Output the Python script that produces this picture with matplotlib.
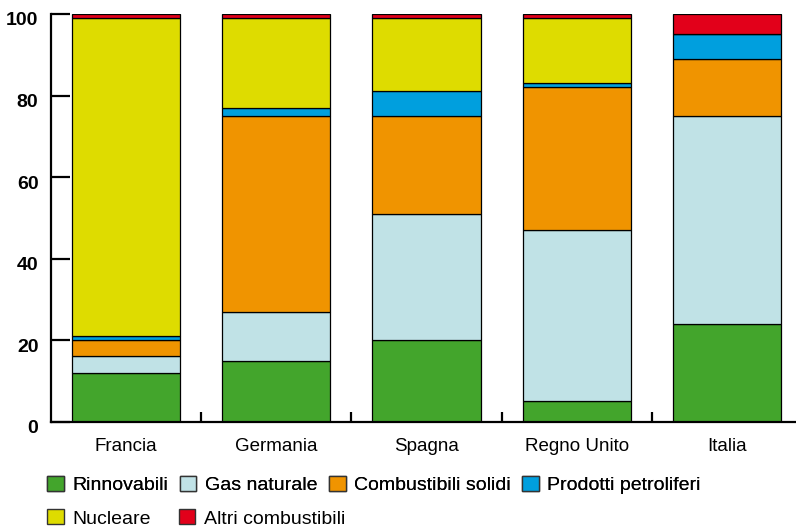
import numpy as np
import matplotlib
matplotlib.use('Agg')
import matplotlib.pyplot as plt
import matplotlib.transforms as mtransforms
from matplotlib.patches import Patch

plt.rcParams['font.family'] = ['Liberation Sans', 'DejaVu Sans']

# Mix energetico per paese (%)
paesi = ['Francia', 'Germania', 'Spagna', 'Regno Unito', 'Italia']
fonti = ['Rinnovabili', 'Gas naturale', 'Combustibili solidi',
         'Prodotti petroliferi', 'Nucleare', 'Altri combustibili']
rinnovabili = [12, 15, 20, 5, 24]
gas = [4, 12, 31, 42, 51]
solidi = [4, 48, 24, 35, 14]
petroliferi = [1, 2, 6, 1, 6]
nucleare = [78, 22, 18, 16, 0]
altri = [1, 1, 1, 1, 5]
colori = ['#43a52c', '#c0e2e6', '#f09400', '#009fde', '#dedc00', '#e2001a']

serie = [rinnovabili, gas, solidi, petroliferi, nucleare, altri]

fig = plt.figure(figsize=(7.96, 5.28), dpi=100)
ax = fig.add_axes([0.064, 0.2013, 0.936, 0.7722])

x = np.arange(len(paesi))
base = np.zeros(len(paesi))
for vals, col in zip(serie, colori):
    ax.bar(x, vals, width=0.72, bottom=base, color=col, edgecolor='black', linewidth=0.9)
    base += np.array(vals)

ax.set_xlim(-0.5, 4.46)
ax.set_ylim(0, 100)
for s in ['top', 'right']:
    ax.spines[s].set_visible(False)
for s in ['left', 'bottom']:
    ax.spines[s].set_linewidth(1.6)

ax.set_yticks([0, 20, 40, 60, 80, 100])
ax.tick_params(axis='y', direction='in', length=14, width=1.6, pad=9, labelsize=14)
ax.set_xticks(x)
ax.set_xticklabels(paesi)
ax.tick_params(axis='x', which='major', length=0, pad=12, labelsize=13.5)
ax.set_xticks(x[:-1] + 0.5, minor=True)
ax.tick_params(axis='x', which='minor', direction='in', length=7.5, width=1.6)
for lab in ax.get_yticklabels():
    lab.set_fontweight('bold')
    lab.set_transform(lab.get_transform() + mtransforms.ScaledTranslation(0, -5 / 100, fig.dpi_scale_trans))

handles = [Patch(facecolor=c, edgecolor='#333333', linewidth=1.0) for c in colori]
opts = dict(loc='center left', frameon=False, fontsize=14,
            handlelength=0.86, handleheight=0.82, handletextpad=0.43,
            borderaxespad=0, borderpad=0)
leg1 = fig.legend(handles[:4], fonti[:4], ncol=4, bbox_to_anchor=(0.059, 0.082),
                  columnspacing=0.6, **opts)
leg2 = fig.legend(handles[4:], fonti[4:], ncol=2, bbox_to_anchor=(0.059, 0.018),
                  columnspacing=1.45, **opts)
fig.add_artist(leg1)

fig.savefig('out.png', dpi=100)
